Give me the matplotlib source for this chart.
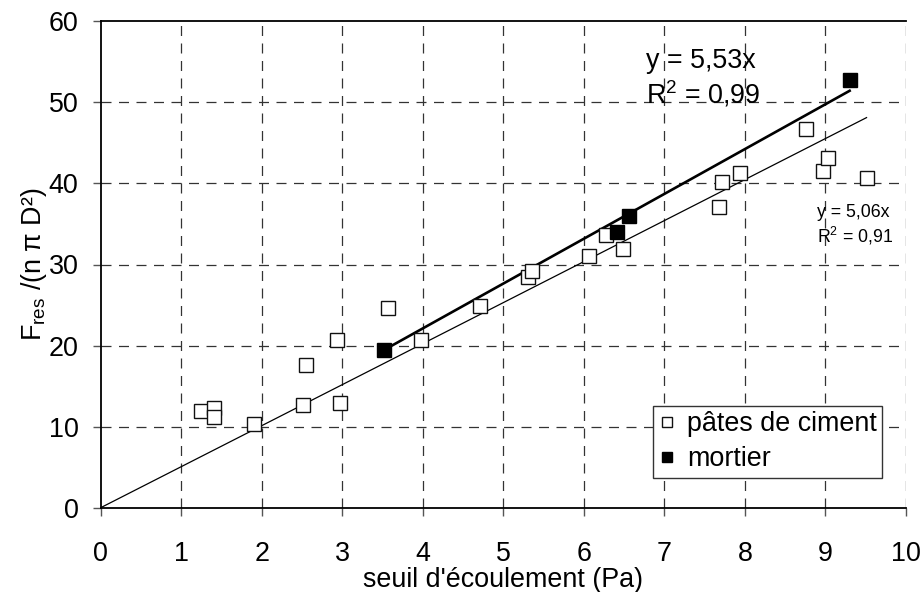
import numpy as np
import matplotlib
matplotlib.use("Agg")
import matplotlib.pyplot as plt

plt.rcParams['font.family'] = ['Liberation Sans', 'DejaVu Sans']
plt.rcParams['mathtext.fontset'] = 'custom'
plt.rcParams['mathtext.rm'] = 'Liberation Sans'
plt.rcParams['mathtext.it'] = 'Liberation Sans:italic'
plt.rcParams['mathtext.bf'] = 'Liberation Sans:bold'

# pâtes de ciment (open squares)
pate_x = [1.25, 1.41, 1.41, 1.90, 2.51, 2.55, 2.93, 2.97, 3.57, 3.98, 4.71, 5.30, 5.35,
          6.06, 6.27, 6.49, 7.68, 7.71, 7.94, 8.76, 8.97, 9.03, 9.51]
pate_y = [11.9, 12.3, 11.2, 10.3, 12.7, 17.6, 20.7, 12.9, 24.6, 20.7, 24.9, 28.5, 29.2,
          31.1, 33.7, 31.9, 37.1, 40.2, 41.3, 46.7, 41.5, 43.1, 40.7]
# mortier (filled squares)
mort_x = [3.52, 6.41, 6.56, 9.30]
mort_y = [19.4, 34.0, 36.0, 52.7]

# trendlines (through origin)
pate_slope = 5.06
pate_r2 = 0.91
mort_slope = 5.53
mort_r2 = 0.99
pate_trend_range = [0.0, 9.51]
mort_trend_range = [3.52, 9.30]

W, H = 923, 592
fig = plt.figure(figsize=(W / 100, H / 100), dpi=100)
L, R, T, B = 100.7, 906, 21.3, 507.7
ax = fig.add_axes([L / W, 1 - B / H, (R - L) / W, (B - T) / H])

FS = 19.4
grid_kw = dict(color='#333333', linewidth=0.9, linestyle=(0, (8, 6)))
for gx in range(1, 11):
    ax.axvline(gx, zorder=0, **grid_kw)
for gy in range(10, 60, 10):
    ax.axhline(gy, zorder=0, **grid_kw)

tx = np.array(pate_trend_range)
ax.plot(tx, pate_slope * tx, color='black', linewidth=0.9, zorder=2)
mx = np.array(mort_trend_range)
ax.plot(mx, mort_slope * mx, color='black', linewidth=1.9, zorder=2)

ax.plot(pate_x, pate_y, linestyle='none', marker='s', markersize=9.5,
        markerfacecolor='white', markeredgecolor='#111111', markeredgewidth=1.0,
        label='pâtes de ciment', zorder=3)
ax.plot(mort_x, mort_y, linestyle='none', marker='s', markersize=9.5,
        markerfacecolor='black', markeredgecolor='black', markeredgewidth=1.0,
        label='mortier', zorder=4)

ax.set_xlim(0, 10)
ax.set_ylim(0, 60)
ax.set_xticks(range(0, 11))
ax.set_yticks(range(0, 61, 10))

for s in ['left', 'bottom', 'top']:
    ax.spines[s].set_color('black')
    ax.spines[s].set_linewidth(1.3)
ax.spines['right'].set_visible(False)

ax.tick_params(axis='both', direction='out', length=6, width=1.0, color='#555555',
               labelsize=FS, labelcolor='black')
ax.tick_params(axis='y', pad=10)
ax.tick_params(axis='x', pad=18)

ax.set_xlabel("seuil d'écoulement (Pa)", fontsize=FS, labelpad=0)
ax.set_ylabel(r'F$_{\mathrm{res}}$ /(n π D²)', fontsize=FS, labelpad=0)

ax.text(6.77, 55.1, 'y = 5,53x', fontsize=FS, va='center', ha='left')
ax.text(6.77, 51.0, r'R$^{2}$ = 0,99', fontsize=FS, va='center', ha='left')
ax.text(8.90, 36.4, 'y = 5,06x', fontsize=12.8, va='center', ha='left')
ax.text(8.90, 33.5, r'R$^{2}$ = 0,91', fontsize=12.8, va='center', ha='left')

leg = ax.legend(loc='upper left', bbox_to_anchor=(0.686, 0.209), fontsize=FS,
                frameon=True, fancybox=False, shadow=False, framealpha=1,
                edgecolor='#333333', markerscale=0.75, handlelength=0.6,
                handletextpad=0.45, borderpad=0.2, labelspacing=0.33,
                borderaxespad=0)
leg.get_frame().set_linewidth(1.0)

fig.savefig('out.png', dpi=100)
